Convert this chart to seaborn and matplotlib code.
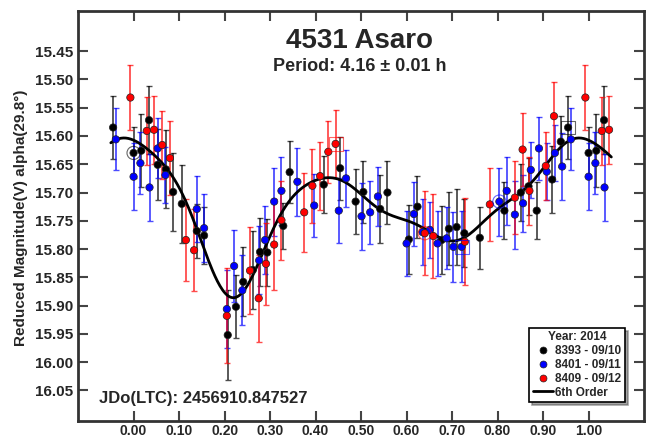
import numpy as np
import pandas as pd
import matplotlib
matplotlib.use("Agg")
import matplotlib.pyplot as plt
import seaborn as sns
from matplotlib.lines import Line2D

# ---------------- data (phase in [0,1), reduced magnitude, error) ----------------
phase_b = [0.000, 0.017, 0.034, 0.053, 0.071, 0.087, 0.106, 0.139, 0.155, 0.207,
           0.225, 0.241, 0.262, 0.278, 0.294, 0.329, 0.343, 0.418, 0.454, 0.488,
           0.505, 0.542, 0.558, 0.605, 0.624, 0.677, 0.693, 0.710, 0.727, 0.761,
           0.815, 0.851, 0.868, 0.886, 0.920, 0.939, 0.955]
mag_b = [15.630, 15.626, 15.572, 15.651, 15.659, 15.699, 15.720, 15.768, 15.776, 15.952,
         15.902, 15.858, 15.837, 15.805, 15.806, 15.759, 15.664, 15.686, 15.657, 15.716,
         15.699, 15.729, 15.700, 15.783, 15.725, 15.784, 15.764, 15.761, 15.772, 15.780,
         15.732, 15.700, 15.689, 15.732, 15.677, 15.610, 15.585]
err_b = [0.045, 0.065, 0.060, 0.063, 0.069, 0.069, 0.069, 0.048, 0.050, 0.080,
         0.056, 0.061, 0.069, 0.060, 0.060, 0.040, 0.055, 0.050, 0.056, 0.057,
         0.055, 0.060, 0.055, 0.061, 0.055, 0.060, 0.065, 0.068, 0.060, 0.055,
         0.050, 0.050, 0.050, 0.050, 0.060, 0.045, 0.056]

phase_u = [0.000, 0.015, 0.035, 0.053, 0.070, 0.139, 0.155, 0.205, 0.221, 0.239,
           0.276, 0.289, 0.309, 0.325, 0.360, 0.397, 0.451, 0.467, 0.501, 0.520,
           0.537, 0.600, 0.616, 0.635, 0.651, 0.668, 0.688, 0.703, 0.721, 0.804,
           0.820, 0.838, 0.856, 0.873, 0.891, 0.908, 0.926, 0.942, 0.961]
mag_u = [15.672, 15.648, 15.691, 15.622, 15.669, 15.729, 15.763, 15.906, 15.830, 15.873,
         15.820, 15.784, 15.716, 15.697, 15.681, 15.723, 15.732, 15.675, 15.742, 15.735,
         15.707, 15.790, 15.738, 15.770, 15.766, 15.790, 15.781, 15.796, 15.796, 15.716,
         15.697, 15.739, 15.719, 15.660, 15.622, 15.663, 15.630, 15.654, 15.606]
err_u = [0.059, 0.055, 0.060, 0.053, 0.050, 0.059, 0.060, 0.069, 0.063, 0.062,
         0.060, 0.060, 0.060, 0.060, 0.060, 0.056, 0.058, 0.050, 0.059, 0.056,
         0.053, 0.057, 0.056, 0.058, 0.050, 0.057, 0.055, 0.062, 0.063, 0.060,
         0.060, 0.060, 0.050, 0.050, 0.055, 0.050, 0.050, 0.060, 0.055]

phase_r = [0.029, 0.045, 0.063, 0.080, 0.115, 0.133, 0.205, 0.256, 0.275, 0.291,
           0.309, 0.325, 0.375, 0.393, 0.410, 0.428, 0.444, 0.640, 0.659, 0.728,
           0.783, 0.838, 0.855, 0.870, 0.906, 0.924, 0.993]
mag_r = [15.591, 15.589, 15.616, 15.639, 15.784, 15.802, 15.918, 15.838, 15.887, 15.826,
         15.792, 15.749, 15.735, 15.688, 15.671, 15.628, 15.614, 15.772, 15.777, 15.787,
         15.721, 15.709, 15.624, 15.697, 15.653, 15.565, 15.532]
err_r = [0.060, 0.060, 0.060, 0.065, 0.072, 0.073, 0.084, 0.077, 0.077, 0.072,
         0.080, 0.070, 0.070, 0.065, 0.060, 0.055, 0.060, 0.074, 0.074, 0.077,
         0.065, 0.065, 0.064, 0.060, 0.060, 0.061, 0.058]

session_labels = ["8393 - 09/10", "8401 - 09/11", "8409 - 09/12"]
session_colors = ["#000000", "#0000ff", "#ff0000"]
# index of first (circled) and last (boxed) observation of each session
first_idx = [0, 29, 17]
last_idx = [36, 28, 16]

x_ticks = [0.00, 0.10, 0.20, 0.30, 0.40, 0.50, 0.60, 0.70, 0.80, 0.90, 1.00]
y_ticks = [15.45, 15.50, 15.55, 15.60, 15.65, 15.70, 15.75, 15.80, 15.85, 15.90,
           15.95, 16.00, 16.05]
fit_order = 6

# ---------------- build table (with phase wrap-around copies) ----------------
series = [(phase_b, mag_b, err_b), (phase_u, mag_u, err_u), (phase_r, mag_r, err_r)]
rows = []
for lab, (ph, mg, er) in zip(session_labels, series):
    for p, m, e in zip(ph, mg, er):
        rows.append((lab, p, m, e))
        if p < 0.05:
            rows.append((lab, p + 1.0, m, e))
        if p > 0.95:
            rows.append((lab, p - 1.0, m, e))
df = pd.DataFrame(rows, columns=["session", "phase", "mag", "err"])

# ---------------- 6th order Fourier fit from the base data ----------------
all_p = np.concatenate([np.array(s[0]) for s in series])
all_m = np.concatenate([np.array(s[1]) for s in series])
all_e = np.concatenate([np.array(s[2]) for s in series])

def design(p):
    cols = [np.ones_like(p)]
    for k in range(1, fit_order + 1):
        cols.append(np.cos(2 * np.pi * k * p))
        cols.append(np.sin(2 * np.pi * k * p))
    return np.column_stack(cols)

w = 1.0 / all_e
coef, *_ = np.linalg.lstsq(design(all_p) * w[:, None], all_m * w, rcond=None)
grid = np.linspace(-0.05, 1.05, 400)
fit = design(grid) @ coef

# ---------------- plotting ----------------
sns.set_style("ticks")
plt.rcParams["font.family"] = ["Liberation Sans", "DejaVu Sans"]
plt.rcParams["font.weight"] = "bold"

fig = plt.figure(figsize=(6.46, 4.38), dpi=100)
ax = fig.add_axes([0.1212, 0.0388, 0.8757, 0.9361])

for lab, col in zip(session_labels, session_colors):
    sub = df[df.session == lab]
    ax.errorbar(sub.phase, sub.mag, yerr=sub.err, fmt="none", ecolor=col,
                alpha=0.7, elinewidth=1.3, capsize=2.5, capthick=1.0, zorder=2)

sns.lineplot(x=grid, y=fit, color="black", lw=2.0, ax=ax, zorder=3,
             legend=False, sort=False)

sns.scatterplot(data=df, x="phase", y="mag", hue="session",
                palette=dict(zip(session_labels, session_colors)),
                s=28, edgecolor="#222222", linewidth=0.5, legend=False,
                ax=ax, zorder=4)

for (ph, mg, er), col, fi, li in zip(series, session_colors, first_idx, last_idx):
    ax.scatter([ph[fi]], [mg[fi]], s=90, marker="o", facecolors="none",
               edgecolors=col, linewidths=0.8, alpha=0.6, zorder=5)
    ax.scatter([ph[li]], [mg[li]], s=100, marker="s", facecolors="none",
               edgecolors=col, linewidths=0.8, alpha=0.6, zorder=5)

ax.set_xlim(-0.1215, 1.1218)
ax.set_ylim(16.104, 15.379)
ax.set_xticks(x_ticks)
ax.set_xticklabels([f"{t:.2f}" for t in x_ticks], fontsize=10, fontweight="bold")
ax.set_yticks(y_ticks)
ax.set_yticklabels([f"{t:.2f}" for t in y_ticks], fontsize=11, fontweight="bold")
ax.tick_params(direction="in", length=7, width=1.5, color="#444444",
               top=True, right=True, pad=3.5)
ax.tick_params(axis="x", pad=2.0)
ax.set_xlabel("")
ax.set_ylabel("")
for sp in ax.spines.values():
    sp.set_color("#333333")
    sp.set_linewidth(2)

fig.text(0.557, 0.906, "4531 Asaro", fontsize=20, fontweight="bold",
         ha="center", va="center")
fig.text(0.557, 0.849, "Period: 4.16 ± 0.01 h", fontsize=13, fontweight="bold",
         ha="center", va="center")
fig.text(0.032, 0.502, "Reduced Magnitude(V) alpha(29.8°)", fontsize=11,
         fontweight="bold", rotation=90, ha="center", va="center")
ax.text(0.0366, 0.054, "JDo(LTC): 2456910.847527", transform=ax.transAxes,
        fontsize=12, fontweight="bold", ha="left", va="center")

handles = [Line2D([], [], marker="o", linestyle="none", color=c,
                  markeredgecolor="#222222", markeredgewidth=0.5, markersize=5)
           for c in session_colors]
handles.append(Line2D([], [], color="black", lw=2))
leg = ax.legend(handles, session_labels + ["6th Order"], title="Year: 2014",
                loc="upper left", bbox_to_anchor=(0.797, 0.227), borderaxespad=0,
                prop={"size": 8.5, "weight": "bold"},
                title_fontproperties={"size": 8.5, "weight": "bold"},
                frameon=True, fancybox=False, shadow=True, framealpha=1,
                edgecolor="black", handlelength=1.7, handletextpad=0.2,
                labelspacing=0.15, borderpad=0.3)
leg.get_frame().set_linewidth(1.2)
leg.set_zorder(10)

fig.savefig("out.png", dpi=100)
